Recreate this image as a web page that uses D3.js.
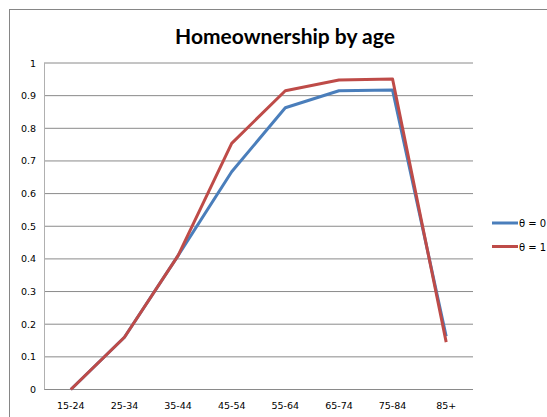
<!DOCTYPE html>
<html>
<head>
<meta charset="utf-8">
<script src="https://cdn.jsdelivr.net/npm/d3@7"></script>
<style>
html,body{margin:0;padding:0;background:#fff;}
svg{display:block;}
</style>
</head>
<body>
<svg id="chart" width="547" height="417"></svg>
<script>
const categories = ["15-24","25-34","35-44","45-54","55-64","65-74","75-84","85+"];
const theta0 = [0, 0.16, 0.41, 0.667, 0.863, 0.915, 0.917, 0.163];
const theta1 = [0, 0.16, 0.41, 0.754, 0.915, 0.948, 0.951, 0.145];
const yTicks = [0,0.1,0.2,0.3,0.4,0.5,0.6,0.7,0.8,0.9,1];
const yTickLabels = ["0","0.1","0.2","0.3","0.4","0.5","0.6","0.7","0.8","0.9","1"];
const seriesNames = ["\u03b8 = 0","\u03b8 = 1"];
const seriesColors = ["#4a7ebb","#be4b48"];
const title = "Homeownership by age";

const svg = d3.select("#chart");
const plot = {left:44, right:473, top:63, bottom:389.5};

// outer frame
svg.append("rect").attr("x",9.5).attr("y",9.5).attr("width",560).attr("height",430)
  .attr("fill","#fff").attr("stroke","#868686").attr("stroke-width",1);

const x = d3.scaleBand().domain(categories).range([plot.left, plot.right]);
const y = d3.scaleLinear().domain([0,1]).range([plot.bottom, plot.top]);

// gridlines
svg.append("g").selectAll("line").data(yTicks).join("line")
  .attr("x1",plot.left).attr("x2",plot.right)
  .attr("y1",d=>y(d)).attr("y2",d=>y(d))
  .attr("stroke","#8a8a8a").attr("stroke-width",1);

// left axis line
svg.append("line").attr("x1",plot.left+0.5).attr("x2",plot.left+0.5)
  .attr("y1",plot.top).attr("y2",plot.bottom).attr("stroke","#b0b0b0").attr("stroke-width",1);

// y tick labels
const yAxis = d3.axisLeft(y).tickValues(yTicks).tickSize(0).tickPadding(8)
  .tickFormat((d,i)=>yTickLabels[i]);
const gy = svg.append("g").attr("transform",`translate(${plot.left},0)`).call(yAxis);
gy.select(".domain").remove();
gy.selectAll("text").attr("font-family","DejaVu Sans, Verdana, sans-serif").attr("font-size","9.5px").attr("fill","#000");

// x tick labels
const xAxis = d3.axisBottom(x).tickSize(0).tickPadding(13);
const gx = svg.append("g").attr("transform",`translate(0,${plot.bottom})`).call(xAxis);
gx.select(".domain").remove();
gx.selectAll("text").attr("font-family","DejaVu Sans, Verdana, sans-serif").attr("font-size","9.5px").attr("fill","#000");

// lines
const line = d3.line().x((d,i)=>x(categories[i])+x.bandwidth()/2).y(d=>y(d));
[theta0, theta1].forEach((s,k)=>{
  svg.append("path").datum(s).attr("d",line)
    .attr("fill","none").attr("stroke",seriesColors[k]).attr("stroke-width",3)
    .attr("stroke-linejoin","round");
});

// title
svg.append("text").attr("x",285).attr("y",44).attr("text-anchor","middle")
  .attr("font-family","Lato, 'Open Sans', sans-serif").attr("font-weight","bold")
  .attr("font-size","21px").attr("fill","#000").text(title);

// legend
const legY = [223, 246.5];
seriesNames.forEach((n,k)=>{
  svg.append("line").attr("x1",492).attr("x2",518).attr("y1",legY[k]).attr("y2",legY[k])
    .attr("stroke",seriesColors[k]).attr("stroke-width",3);
  svg.append("text").attr("x",519).attr("y",legY[k]+4).attr("font-family","DejaVu Sans, Verdana, sans-serif")
    .attr("font-size","10px").attr("fill","#000").text(n);
});
</script>
</body>
</html>
